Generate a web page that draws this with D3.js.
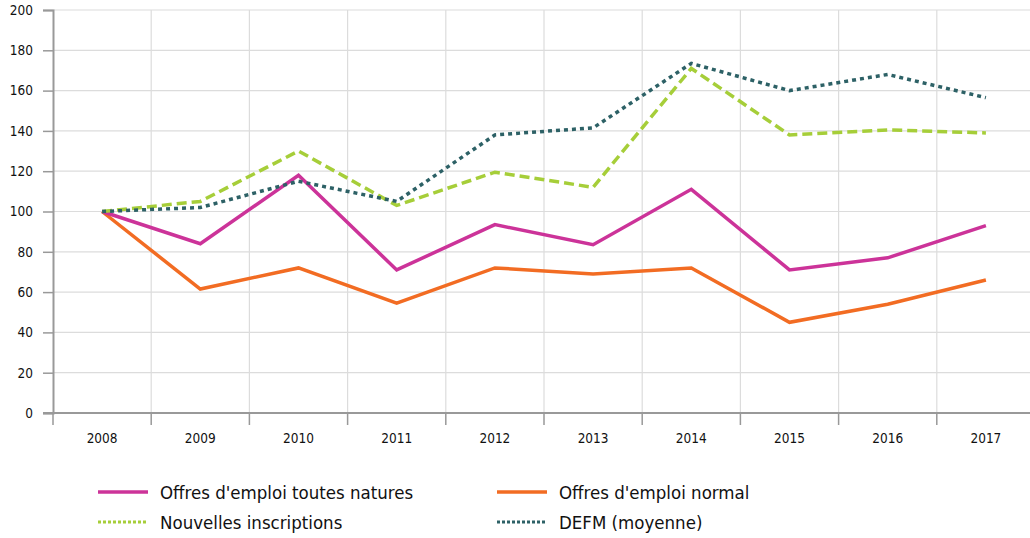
<!DOCTYPE html>
<html>
<head>
<meta charset="utf-8">
<script src="https://cdn.jsdelivr.net/npm/d3@7"></script>
<style>
  body { margin: 0; background: #fff; }
  svg text { font-family: "DejaVu Sans Condensed", "DejaVu Sans", sans-serif; font-stretch: condensed; fill: #111; }
</style>
</head>
<body>
<div id="container"></div>
<script>
const years = ["2008", "2009", "2010", "2011", "2012", "2013", "2014", "2015", "2016", "2017"]
const yTicks = [0, 20, 40, 60, 80, 100, 120, 140, 160, 180, 200]

const offresToutes = [100, 84, 118, 71, 93.5, 83.5, 111, 71, 77, 93]
const offresNormal = [100, 61.5, 72, 54.5, 72, 69, 72, 45, 54, 66]
const nouvellesInscriptions = [100, 105, 130, 103, 119.5, 112, 171, 138, 140.5, 139]
const defm = [100, 102, 115, 105, 138, 141.5, 173.5, 160, 168, 156.5]

const series = [
    { label: "Offres d'emploi toutes natures", values: offresToutes, color: "#cc3399", dash: null },
    { label: "Offres d'emploi normal", values: offresNormal, color: "#f26c23", dash: null },
    { label: "Nouvelles inscriptions", values: nouvellesInscriptions, color: "#a6ce39", dash: "10,5" },
    { label: "DEFM (moyenne)", values: defm, color: "#2d6166", dash: "4,4" }
]

const width = 1030, height = 538
const plotLeft = 53, plotTop = 10, plotBottom = 413

const svg = d3.select("div#container")
    .append("svg")
    .attr("width", width)
    .attr("height", height)

const x = d3.scaleBand().domain(years).range([plotLeft, 1035]).padding(0)
const y = d3.scaleLinear().domain([0, 200]).range([plotBottom, plotTop])

// grid
svg.append("g")
    .selectAll("line")
    .data(yTicks.slice(1))
    .enter()
    .append("line")
    .attr("x1", plotLeft).attr("x2", width)
    .attr("y1", d => y(d)).attr("y2", d => y(d))
    .attr("stroke", "#dcdcdc")
    .attr("stroke-width", 1.2)

svg.append("g")
    .selectAll("line")
    .data(years.slice(1))
    .enter()
    .append("line")
    .attr("x1", d => x(d)).attr("x2", d => x(d))
    .attr("y1", plotTop).attr("y2", plotBottom)
    .attr("stroke", "#dcdcdc")
    .attr("stroke-width", 1.2)

// axes
const yAxis = svg.append("g")
    .attr("transform", `translate(${plotLeft},0)`)
    .call(d3.axisLeft(y).tickValues(yTicks).tickSize(10).tickPadding(10))
yAxis.select(".domain").attr("stroke", "#999").attr("stroke-width", 2)
yAxis.selectAll(".tick line").attr("stroke", "#999").attr("stroke-width", 1.5)
yAxis.selectAll("text").style("font-size", "13.5px").attr("fill", "#111")

const xAxis = svg.append("g")
    .attr("transform", `translate(0,${plotBottom})`)
    .call(d3.axisBottom(x).tickSize(0).tickPadding(20))
xAxis.select(".domain").remove()
xAxis.selectAll("text").style("font-size", "13.5px").attr("fill", "#111")

svg.append("line")
    .attr("x1", plotLeft - 10).attr("x2", width)
    .attr("y1", plotBottom).attr("y2", plotBottom)
    .attr("stroke", "#999").attr("stroke-width", 2)

svg.append("g")
    .selectAll("line")
    .data(years)
    .enter()
    .append("line")
    .attr("x1", d => x(d)).attr("x2", d => x(d))
    .attr("y1", plotBottom).attr("y2", plotBottom + 12)
    .attr("stroke", "#999")
    .attr("stroke-width", 1.5)

// lines
const line = d3.line()
    .x((d, i) => x(years[i]) + x.bandwidth() / 2)
    .y(d => y(d))

const order = [1, 0, 2, 3]
svg.append("g")
    .selectAll("path")
    .data(order.map(i => series[i]))
    .enter()
    .append("path")
    .attr("d", d => line(d.values))
    .attr("fill", "none")
    .attr("stroke", d => d.color)
    .attr("stroke-width", 3.5)
    .attr("stroke-dasharray", d => d.dash)

// legend
const legendPos = [[98, 492], [497, 492], [98, 522], [497, 522]]
const legend = svg.append("g")
    .selectAll("g")
    .data(series)
    .enter()
    .append("g")
    .attr("transform", (d, i) => `translate(${legendPos[i][0]},${legendPos[i][1]})`)

legend.append("line")
    .attr("x1", 0).attr("x2", 50)
    .attr("stroke", d => d.color)
    .attr("stroke-width", d => d.dash ? 3 : 3.5)
    .attr("stroke-dasharray", d => d.dash ? "3,2" : null)

legend.append("text")
    .attr("x", 62)
    .attr("y", 7)
    .style("font-size", "18.5px")
    .text(d => d.label)
</script>
</body>
</html>
